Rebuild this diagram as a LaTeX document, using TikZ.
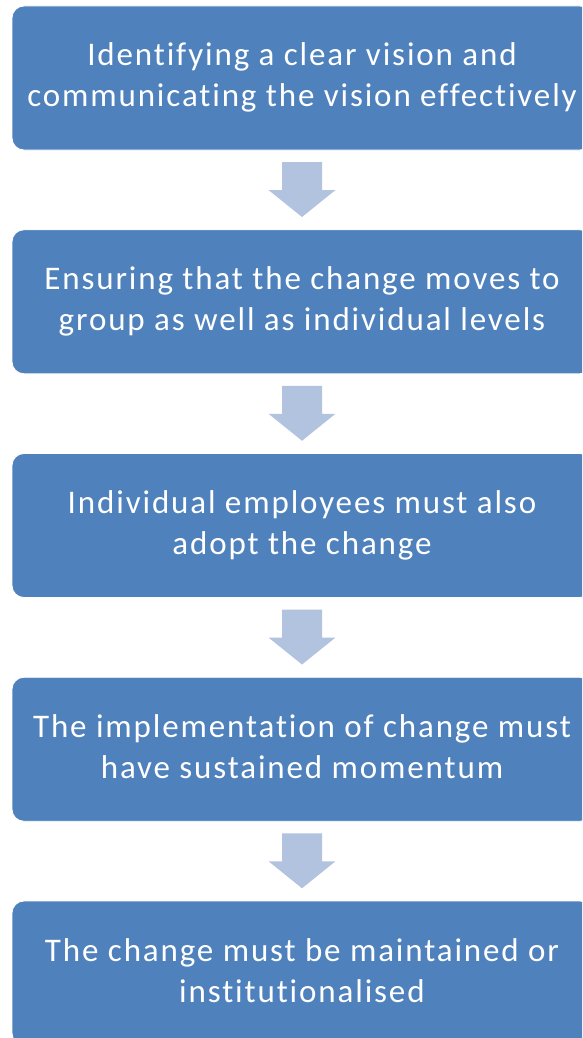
\documentclass[tikz,border=0pt]{standalone}
\usepackage{fontspec}
\setmainfont[Ligatures=NoCommon]{Carlito}
\definecolor{stepblue}{RGB}{79,129,189}
\definecolor{arrowblue}{RGB}{178,195,223}
\tikzset{
  stepbox/.style={fill=stepblue, draw=white, line width=0.8pt, rounded corners=12pt},
  steptext/.style={text=white, align=center, inner sep=0pt,
                   font=\fontsize{33}{41}\selectfont\addfontfeature{LetterSpace=5.7}},
  downarrow/.style={fill=arrowblue, draw=none}
}
\begin{document}
\begin{tikzpicture}[x=1pt,y=-1pt]
  \useasboundingbox (0,0) rectangle (582,1038);
  \clip (0,0) rectangle (582,1038);
  \fill[white] (0,0) rectangle (582,1038);
  % five stacked steps; boxes run past the right edge
  \foreach \i/\top/\txt in {
      1/6/{Identifying a clear vision and\\communicating the vision effectively},
      2/229.75/{Ensuring that the change moves to\\group as well as individual levels},
      3/453.5/{Individual employees must also\\adopt the change},
      4/677.25/{The implementation of change must\\have sustained momentum},
      5/901/{The change must be maintained or\\institutionalised}} {
    \draw[stepbox] (12,\top) rectangle (592,\top+144);
    % base anchor sits on the second line's baseline
    \node[steptext, anchor=base] (s\i) at (302,\top+101) {\txt};
  }
  % block arrows between consecutive steps
  \foreach \top in {162, 385.75, 609.5, 833.25} {
    \fill[downarrow] (282,\top) -- (322,\top) -- (322,\top+28) -- (335.5,\top+28)
      -- (302,\top+55) -- (268.5,\top+28) -- (282,\top+28) -- cycle;
  }
\end{tikzpicture}
\end{document}
